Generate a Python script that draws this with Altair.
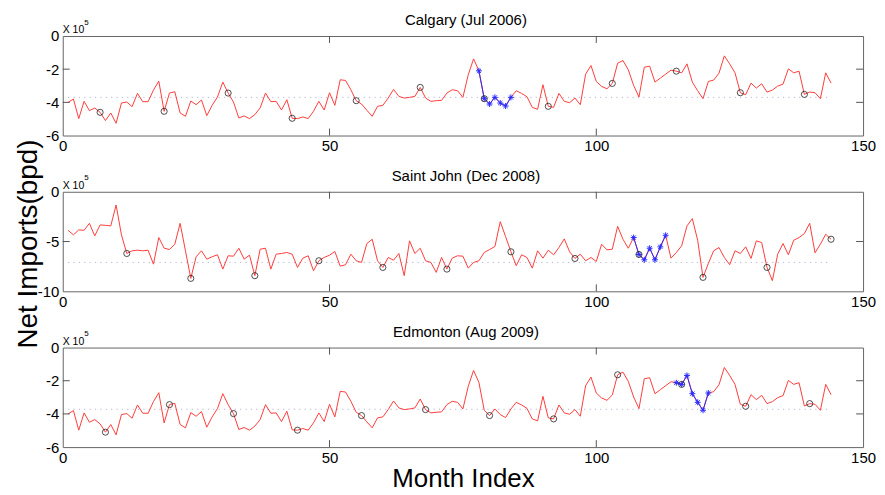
import altair as alt
import pandas as pd

months = list(range(1, 145))

# Net imports in units of 1e5 bpd
calgary_values = [
    -4.0, -3.8, -4.98, -3.94, -4.5, -4.34, -4.6, -5.1, -4.64, -5.26,
    -4.04, -3.98, -4.26, -3.46, -3.96, -3.96, -3.26, -2.72, -4.54, -3.44,
    -3.36, -4.64, -4.84, -3.92, -4.14, -3.86, -4.8, -4.18, -3.68, -2.78,
    -3.44, -3.98, -4.94, -4.82, -4.98, -4.74, -4.34, -3.44, -3.96, -3.94,
    -4.46, -3.84, -4.96, -4.98, -4.88, -4.98, -4.54, -3.94, -4.46, -3.42,
    -4.18, -2.64, -2.68, -3.24, -3.9, -4.1, -4.48, -4.84, -4.24, -4.18,
    -3.74, -3.22, -3.64, -3.74, -3.7, -3.64, -3.1, -3.74, -3.94, -3.9,
    -3.88, -3.44, -3.24, -3.3, -3.7, -2.34, -1.38, -2.1, -3.78, -4.1,
    -3.7, -4.04, -4.22, -3.7, -3.3, -3.46, -3.66, -4.3, -4.42, -2.94,
    -4.24, -4.3, -3.46, -3.94, -4.02, -3.74, -4.14, -2.3, -1.78, -2.74,
    -3.04, -3.18, -2.86, -1.64, -1.48, -2.04, -2.98, -3.68, -1.88, -1.82,
    -2.78, -2.54, -2.3, -2.06, -2.12, -2.22, -1.68, -2.78, -3.3, -3.78,
    -2.74, -2.66, -2.24, -1.2, -1.68, -2.22, -3.42, -3.54, -2.84, -3.14,
    -2.88, -3.38, -3.26, -3.02, -2.9, -1.98, -2.22, -2.12, -3.52, -3.38,
    -3.42, -3.78, -2.22, -2.84,
]

saint_john_values = [
    -3.87, -4.33, -3.83, -3.87, -3.17, -4.43, -3.33, -3.37, -3.43, -1.33,
    -4.33, -6.2, -5.93, -5.87, -5.93, -5.87, -7.27, -4.6, -5.67, -5.8,
    -5.27, -3.17, -5.93, -8.7, -6.53, -5.93, -6.77, -6.53, -6.33, -7.77,
    -6.43, -6.47, -5.67, -6.77, -6.37, -8.43, -5.77, -5.67, -7.77, -6.27,
    -6.2, -6.1, -6.27, -7.6, -6.67, -6.43, -7.93, -6.93, -6.6, -6.37,
    -6.0, -7.47, -7.33, -6.27, -6.93, -7.1, -5.2, -4.77, -6.93, -7.6,
    -6.6, -6.87, -6.2, -8.43, -4.93, -6.2, -5.67, -6.93, -7.1, -8.1,
    -6.6, -7.77, -6.67, -6.43, -6.47, -7.67, -7.1, -6.93, -6.1, -5.8,
    -5.5, -3.0, -4.5, -6.03, -7.43, -6.33, -6.6, -7.67, -5.93, -6.67,
    -5.87, -6.33, -5.6, -4.73, -6.03, -6.7, -6.27, -6.93, -6.6, -7.0,
    -5.27, -5.83, -5.77, -3.47, -4.77, -5.67, -4.6, -6.3, -6.83, -5.67,
    -6.83, -5.53, -4.37, -6.67, -6.1, -5.43, -3.43, -2.7, -4.87, -8.6,
    -7.2, -5.93, -5.6, -6.6, -7.33, -5.93, -6.2, -5.53, -6.7, -4.93,
    -5.1, -7.6, -8.93, -6.27, -5.2, -6.33, -4.87, -4.6, -4.2, -3.17,
    -6.13, -5.27, -4.27, -4.77,
]

# the Edmonton panel shows the same series as Calgary
edmonton_values = list(calgary_values)

calgary_circles = [7, 19, 31, 43, 55, 67, 79, 91, 103, 115, 127, 139]
saint_john_circles = [12, 24, 36, 48, 60, 72, 84, 96, 108, 120, 132, 144]
edmonton_circles = [8, 20, 32, 44, 56, 68, 80, 92, 104, 116, 128, 140]

calgary_blue = [78, 79, 80, 81, 82, 83, 84]
saint_john_blue = [107, 108, 109, 110, 111, 112, 113]
edmonton_blue = [115, 116, 117, 118, 119, 120, 121]

calgary_mean = -3.7
saint_john_mean = -7.1
edmonton_mean = -3.72

x_ticks = [0, 50, 100, 150]
y_ticks_a = [-6, -4, -2, 0]
y_ticks_b = [-10, -5, 0]

FONT = "Liberation Sans"
W, H = 804, 100
STAR = "M-1,0L1,0M0,-1L0,1M-0.7,-0.7L0.7,0.7M-0.7,0.7L0.7,-0.7"


def panel(title, values, circles, blue, mean, ydomain, yticks, xtitle, ytitle):
    df = pd.DataFrame({"month": months, "value": values})
    circ = df[df["month"].isin(circles)]
    bl = df[df["month"].isin(blue)]

    xaxis = alt.Axis(values=x_ticks, domain=False, ticks=False, grid=False,
                     labelFlush=False, labelOverlap=False,
                     labelFontSize=15, labelFont=FONT, labelColor="black",
                     labelPadding=3, titleFontSize=26, titleFont=FONT,
                     titleFontWeight="normal", titleColor="black", titlePadding=1)
    yargs = dict(values=yticks, domain=False, ticks=False, grid=False,
                 labelFlush=False, labelOverlap=False,
                 labelFontSize=15, labelFont=FONT, labelColor="black",
                 labelPadding=4, labelExpr="'' + datum.value")
    if ytitle:
        yargs.update(titleFontSize=28, titleFont=FONT, titleFontWeight="normal",
                     titleColor="black", titleX=-34, titleY=52,
                     titleAlign="center", titleBaseline="middle")
    yaxis = alt.Axis(**yargs)

    X = alt.X("month:Q", scale=alt.Scale(domain=[0, 150], nice=False, zero=False),
              axis=xaxis, title=xtitle if xtitle else None)
    Y = alt.Y("value:Q", scale=alt.Scale(domain=ydomain, nice=False, zero=False),
              axis=yaxis, title=ytitle if ytitle else None)

    mean_df = pd.DataFrame({"month": [1], "month2": [144], "value": [mean]})
    mean_rule = alt.Chart(mean_df).mark_rule(
        color="#b4b4d8", strokeDash=[1.2, 4.2], strokeWidth=1
    ).encode(x=X, x2="month2:Q", y=Y)

    red = alt.Chart(df).mark_line(color="#ff3c3c", strokeWidth=1).encode(x=X, y=Y)
    blue_line = alt.Chart(bl).mark_line(color="#2a2aff", strokeWidth=1).encode(x=X, y=Y)
    stars = alt.Chart(bl).mark_point(
        shape=STAR, filled=False, color="#2a2aff", size=36, strokeWidth=1, opacity=1
    ).encode(x=X, y=Y)
    rings = alt.Chart(circ).mark_point(
        shape="circle", filled=False, color="#222222", size=38, strokeWidth=0.8, opacity=1
    ).encode(x=X, y=Y)

    inner_x = [v for v in x_ticks if 0 < v < 150]
    inner_y = [v for v in yticks if ydomain[0] < v < ydomain[1]]
    xt = pd.DataFrame({"month": inner_x})
    yt = pd.DataFrame({"value": inner_y})
    tick_col = "#555555"
    xt_bottom = alt.Chart(xt).mark_rule(color=tick_col).encode(
        x=X, y=alt.value(H), y2=alt.value(H - 7))
    xt_top = alt.Chart(xt).mark_rule(color=tick_col).encode(
        x=X, y=alt.value(0), y2=alt.value(7))
    yt_left = alt.Chart(yt).mark_rule(color=tick_col).encode(
        y=Y, x=alt.value(0), x2=alt.value(7))
    yt_right = alt.Chart(yt).mark_rule(color=tick_col).encode(
        y=Y, x=alt.value(W), x2=alt.value(W - 7))

    one = pd.DataFrame({"k": [0]})
    exp_base = alt.Chart(one).mark_text(
        align="left", baseline="alphabetic", font=FONT, fontSize=10.5, color="black"
    ).encode(x=alt.value(0), y=alt.value(-3), text=alt.value("X 10"))
    exp_sup = alt.Chart(one).mark_text(
        align="left", baseline="alphabetic", font=FONT, fontSize=8, color="black"
    ).encode(x=alt.value(21.5), y=alt.value(-11.5), text=alt.value("5"))
    title_txt = alt.Chart(one).mark_text(
        align="center", baseline="alphabetic", font=FONT, fontSize=15, color="black"
    ).encode(x=alt.value(W / 2 + 3), y=alt.value(-11), text=alt.value(title))

    return alt.layer(
        mean_rule, red, blue_line, stars, rings,
        xt_bottom, xt_top, yt_left, yt_right, exp_base, exp_sup, title_txt
    ).properties(width=W, height=H)


p1 = panel("Calgary (Jul 2006)", calgary_values, calgary_circles, calgary_blue,
           calgary_mean, [-6, 0], y_ticks_a, None, None)
p2 = panel("Saint John (Dec 2008)", saint_john_values, saint_john_circles, saint_john_blue,
           saint_john_mean, [-10, 0], y_ticks_b, None, "Net Imports(bpd)")
p3 = panel("Edmonton (Aug 2009)", edmonton_values, edmonton_circles, edmonton_blue,
           edmonton_mean, [-6, 0], y_ticks_a, "Month Index", None)

chart = alt.vconcat(p1, p2, p3, spacing=56.5, bounds="flush").properties(
    padding={"left": 6, "top": 3, "right": 0, "bottom": 0},
    background="white",
).configure_view(stroke="#666666", strokeWidth=1)

chart.save("out.html", embed_options={"renderer": "svg", "actions": False})
